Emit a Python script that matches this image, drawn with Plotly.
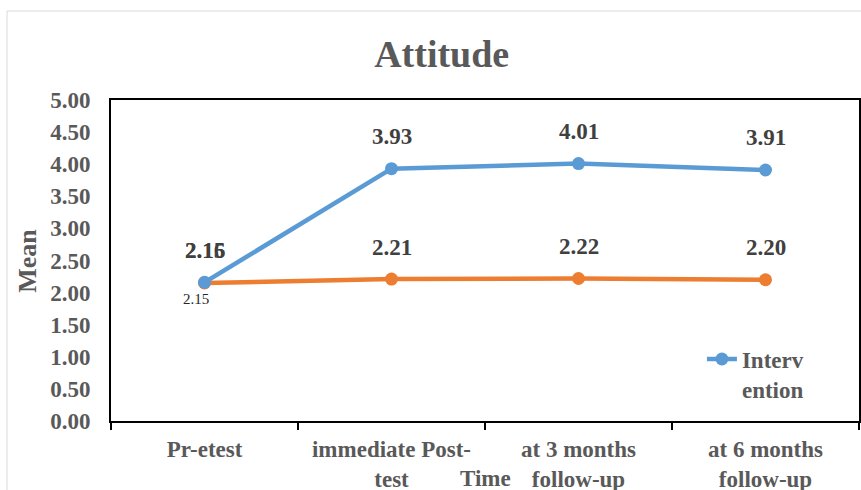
import plotly.graph_objects as go

categories = ["Pr-etest", "immediate Post-test", "at 3 months follow-up", "at 6 months follow-up"]
tick_labels = ["Pr-etest", "immediate Post-<br>test", "at 3 months<br>follow-up", "at 6 months<br>follow-up"]
intervention = [2.16, 3.93, 4.01, 3.91]
control = [2.15, 2.21, 2.22, 2.20]

BLUE = "#5B9BD5"
ORANGE = "#ED7D31"
GRAY = "#595959"
LABEL = "#404040"
SERIF = "Liberation Serif"

fig = go.Figure()
fig.add_trace(go.Scatter(
    x=categories, y=control, name="Control", mode="lines+markers",
    line=dict(color=ORANGE, width=4.5), marker=dict(size=13, color=ORANGE),
    showlegend=False))
fig.add_trace(go.Scatter(
    x=categories, y=intervention, name="Interv<br>ention", mode="lines+markers",
    line=dict(color=BLUE, width=4.5), marker=dict(size=13, color=BLUE)))

annotations = []
for series in (control, intervention):
    for c, v in zip(categories, series):
        annotations.append(dict(
            x=c, y=v, xref="x", yref="y", text=f"{v:.2f}", showarrow=False,
            yshift=32, font=dict(family=SERIF, size=23, color=LABEL, weight="bold")))
# small stray label below first control point
annotations.append(dict(
    x=categories[0], y=control[0], xref="x", yref="y", text=f"{control[0]:.2f}",
    showarrow=False, yshift=-16, xshift=-9,
    font=dict(family=SERIF, size=15, color="#262626")))
annotations.append(dict(
    x=0.5, y=-0.178, xref="paper", yref="paper", text="Time", showarrow=False,
    xanchor="center", yanchor="middle",
    font=dict(family=SERIF, size=23, color=GRAY, weight="bold")))
annotations.append(dict(
    x=-0.112, y=0.5, xref="paper", yref="paper", text="Mean", showarrow=False,
    xanchor="center", yanchor="middle", textangle=-90,
    font=dict(family=SERIF, size=26, color=GRAY, weight="bold")))

fig.update_layout(
    width=861, height=490,
    margin=dict(l=111, r=2, t=100, b=69, autoexpand=False),
    paper_bgcolor="white", plot_bgcolor="white",
    title=dict(text="Attitude", x=0.513, xref="container", xanchor="center",
               y=1 - 54 / 490, yref="container", yanchor="middle",
               font=dict(family=SERIF, size=38, color=GRAY, weight="bold")),
    xaxis=dict(
        type="category", categoryorder="array", categoryarray=categories,
        tickmode="array", tickvals=categories, ticktext=tick_labels,
        range=[-0.5, 3.5], tickson="boundaries", ticks="outside", ticklen=7,
        tickwidth=2, tickcolor="black", showline=True, linecolor="black",
        linewidth=2, mirror=True, showgrid=False, ticklabelstandoff=6,
        automargin=False,
        tickfont=dict(family=SERIF, size=23, color=GRAY, weight="bold")),
    yaxis=dict(
        range=[0, 5], dtick=0.5, tickformat=".2f", showgrid=False,
        zeroline=False, showline=True, linecolor="black", linewidth=2,
        mirror=True, ticks="", ticklabelstandoff=14,
        automargin=False,
        tickfont=dict(family=SERIF, size=23, color=GRAY, weight="bold")),
    legend=dict(
        x=0.79, y=0.26, xanchor="left", yanchor="top", valign="top",
        bgcolor="rgba(0,0,0,0)",
        font=dict(family=SERIF, size=23, color=GRAY, weight="bold")),
    annotations=annotations,
    shapes=[dict(type="rect", xref="paper", yref="paper",
                 x0=(7 - 111) / 748, x1=1.2, y0=-0.6, y1=(421 - 11) / 321,
                 line=dict(color="#D9D9D9", width=1), layer="below")],
)

fig.write_html("out.html", config={"displayModeBar": False},
               post_script="document.body.style.margin='0';document.body.style.overflow='hidden';")
